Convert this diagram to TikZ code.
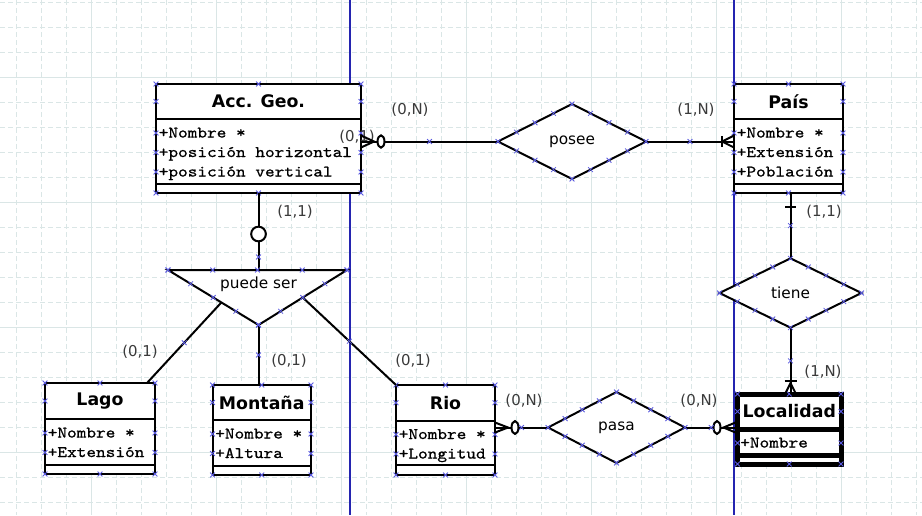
\documentclass[tikz,border=0pt]{standalone}
\usepackage{fontspec}
\setsansfont{DejaVu Sans}
\newfontfamily\attrfont{lmmono10-regular.otf}[FakeStretch=1.15,FakeBold=0.8]
\usetikzlibrary{shapes.geometric,fit,calc}
\definecolor{gridc}{HTML}{DAE6E6}
\definecolor{pagec}{HTML}{2424B0}
\definecolor{markc}{HTML}{5A5AE0}
\definecolor{labelc}{HTML}{3A3A3A}
\tikzset{
  entline/.style={line width=1.5pt},
  hdr/.style={font=\sffamily\bfseries\fontsize{13}{15}\selectfont, inner sep=0pt},
  attr/.style={font=\attrfont\fontsize{12}{14}\selectfont, inner sep=0pt, anchor=base west},
  lbl/.style={font=\sffamily\fontsize{11.2}{13}\selectfont, text=labelc, inner sep=0pt},
  reltxt/.style={font=\sffamily\fontsize{11.5}{13}\selectfont, inner sep=0pt},
  conn/.style={line width=1.5pt, line cap=butt},
  xmark/.style={draw=markc, line width=0.6pt},
  xm/.pic={\draw[xmark] (-2.4,-2.4)--(2.4,2.4) (-2.4,2.4)--(2.4,-2.4);},
  rel/.style={diamond, draw, line width=1.5pt, fill=white, inner sep=0pt, outer sep=0pt},
  gridmin/.style={draw=gridc, line width=0.75pt, dash pattern=on 3.75pt off 2.25pt},
  gridmaj/.style={draw=gridc, line width=0.75pt},
}
% #1 name, #2 x1, #3 y1, #4 x2, #5 y2, #6 header bottom, #7 separator, #8 title, #9 rows
\newcommand\entity[9]{%
  \node[fit={(#2,#3)(#4,#5)}, inner sep=0pt, outer sep=0pt, draw, fill=white, entline] (#1) {};
  \draw[entline] (#2,#6)--(#4,#6) (#2,#7)--(#4,#7);
  \node[hdr] (#1-t) at ({(#2+#4)/2},{(#3+#6)/2}) {#8};
  \foreach \rr [count=\rn] in {#9}{
    \node[attr] (#1-a\rn) at ({#2+2.5},{#6+14+(\rn-1)*19.5+4.5}) {\rr};
    \pic at ({#2},{#6+14+(\rn-1)*19.5}) {xm};
    \pic at ({#4},{#6+14+(\rn-1)*19.5}) {xm};
  }
  \foreach \px in {#2,{(#2+#4)/2},#4}{\pic at ({\px},{#3}) {xm}; \pic at ({\px},{#5}) {xm};}
  \pic at ({#2},{(#3+#6)/2}) {xm};
  \pic at ({#4},{(#3+#6)/2}) {xm};
}
\newcommand\dmarks[1]{%
  \foreach \a/\b in {north/east,east/south,south/west,west/north}{
    \foreach \t in {0,0.25,0.5,0.75}{\pic at ($(#1.\a)!\t!(#1.\b)$) {xm};}
  }
}
\begin{document}
\begin{tikzpicture}[x=0.75pt,y=-0.75pt]
\useasboundingbox (0,0) rectangle (922,515);
\fill[white] (0,0) rectangle (922,515);
% grid
\foreach \i in {0,...,36}{
  \pgfmathtruncatemacro\m{mod(\i,5)}
  \ifnum\m=3 \draw[gridmaj] ({16.7+25*\i},0) -- ({16.7+25*\i},515);
  \else \draw[gridmin] ({16.7+25*\i},0) -- ({16.7+25*\i},515); \fi
}
\foreach \j in {0,...,20}{
  \pgfmathtruncatemacro\m{mod(\j,5)}
  \ifnum\m=3 \draw[gridmaj] (0,{2.3+25*\j}) -- (922,{2.3+25*\j});
  \else \draw[gridmin] (0,{2.3+25*\j}) -- (922,{2.3+25*\j}); \fi
}
% page break lines
\draw[pagec, line width=1.1pt] (350,0) -- (350,515) (734,0) -- (734,515);

% entities
\entity{acc}{156}{84}{361}{193}{119}{184}{Acc. Geo.}{+Nombre *,+posición horizontal,+posición vertical}
\entity{pais}{734}{84}{843}{193}{119}{184}{País}{+Nombre *,+Extensión,+Población}
\entity{lago}{45}{383}{155}{474}{419}{465}{Lago}{+Nombre *,+Extensión}
\entity{mont}{212.5}{385}{311}{475}{420}{466}{Montaña}{+Nombre *,+Altura}
\entity{rio}{396}{385}{495}{475}{420.5}{465}{Rio}{+Nombre *,+Longitud}
\begin{scope}[entline/.style={line width=3.75pt}]
\entity{loc}{737.5}{394}{841}{464}{429}{455}{Localidad}{+Nombre}
\end{scope}

% label partly hidden by the crow's foot
\node[lbl] (lh) at (357,137) {(0,1)};

% relationships
\node[rel, minimum width=111pt, minimum height=56.25pt] (posee) at (572,141.5) {};
\node[reltxt] (posee-t) at (posee) {posee};
\node[rel, minimum width=106.5pt, minimum height=52pt] (tiene) at (790.5,293) {};
\node[reltxt] (tiene-t) at (tiene) {tiene};
\node[rel, minimum width=102.75pt, minimum height=53.25pt] (pasa) at (616.5,427.5) {};
\node[reltxt] (pasa-t) at (pasa) {pasa};

% ISA triangle
\coordinate (isaNW) at (168,270);
\coordinate (isaNE) at (347,270);
\coordinate (isaS) at (258.5,325);
\coordinate (isaN) at (258.5,270);
\draw[conn, fill=white, line join=miter] (isaNW) -- (isaNE) -- (isaS) -- cycle;
\node[reltxt] (isa) at (258.5,284.5) {puede ser};
\coordinate (isaL) at ($(isaNW)!0.59!(isaS)$);
\coordinate (isaR) at ($(isaNE)!0.5!(isaS)$);
\coordinate (lagoT) at ($(lago.north east)+(-8,0)$);

% connectors
\coordinate (c1) at (acc.east |- posee.west);
\coordinate (c2) at (pais.west |- posee.east);
\coordinate (c3) at (tiene.north |- pais.south);
\coordinate (c4) at (tiene.south |- loc.north);
\coordinate (c5) at (rio.east |- pasa.west);
\coordinate (c6) at (loc.west |- pasa.east);
\draw[conn] (c1) -- (posee.west);
\draw[conn] (posee.east) -- (c2);
\draw[conn] (c3) -- (tiene.north);
\draw[conn] (tiene.south) -- (c4);
\draw[conn] (c5) -- (pasa.west);
\draw[conn] (pasa.east) -- (c6);
\draw[conn] (acc.south) -- (isaN);
\draw[conn] (isaL) -- (lagoT);
\draw[conn] (isaS) -- (isaS |- mont.north);
\draw[conn] (isaR) -- (rio.north west);

% cardinality marks
\draw[conn] ($(c1)+(0,-6)$) -- ($(c1)+(13,0)$) -- ($(c1)+(0,6)$);
\draw[conn, fill=white] ($(c1)+(20,0)$) ellipse [x radius=2.6pt, y radius=4.6pt];
\draw[conn] ($(c2)+(0,-6)$) -- ($(c2)+(-12,0)$) -- ($(c2)+(0,6)$);
\draw[conn] ($(c2)+(-12,-5.5)$) -- ($(c2)+(-12,5.5)$);
\draw[conn] ($(c3)+(-5.5,14)$) -- ($(c3)+(5.5,14)$);
\draw[conn] ($(c4)+(-5,-1)$) -- ($(c4)+(0,-11)$) -- ($(c4)+(5,-1)$);
\draw[conn] ($(c4)+(-6,-13)$) -- ($(c4)+(6,-13)$);
\draw[conn] ($(c5)+(0,-5)$) -- ($(c5)+(13,0)$) -- ($(c5)+(0,5)$);
\draw[conn, fill=white] ($(c5)+(20,0)$) ellipse [x radius=2.6pt, y radius=4.8pt];
\draw[conn] ($(c6)+(-2,-5)$) -- ($(c6)+(-14,0)$) -- ($(c6)+(-2,5)$);
\draw[conn, fill=white] ($(c6)+(-20.5,0)$) ellipse [x radius=2.6pt, y radius=4.8pt];
\node[circle, draw, fill=white, line width=1.5pt, minimum size=11pt, inner sep=0pt] (opt) at (258.5,234) {};

% labels
\node[lbl] (l1) at (410,110) {(0,N)};
\node[lbl] (l2) at (696,110) {(1,N)};
\node[lbl] (l3) at (295,212) {(1,1)};
\node[lbl] (l4) at (824,212) {(1,1)};
\node[lbl] (l5) at (823,372) {(1,N)};
\node[lbl] (l6) at (140,352) {(0,1)};
\node[lbl] (l7) at (289,361) {(0,1)};
\node[lbl] (l8) at (413,361) {(0,1)};
\node[lbl] (l9) at (524,401) {(0,N)};
\node[lbl] (l10) at (699,401) {(0,N)};

% connection point marks
\dmarks{posee}
\dmarks{tiene}
\dmarks{pasa}
\foreach \t in {0,0.25,0.5,0.75,1}{
  \pic at ($(isaNW)!\t!(isaNE)$) {xm};
  \pic at ($(isaNW)!\t!(isaS)$) {xm};
  \pic at ($(isaNE)!\t!(isaS)$) {xm};
}
\pic at ($(c1)!0.5!(posee.west)$) {xm};
\pic at ($(posee.east)!0.5!(c2)$) {xm};
\pic at ($(c3)!0.5!(tiene.north)$) {xm};
\pic at ($(tiene.south)!0.5!(c4)$) {xm};
\pic at ($(c5)!0.5!(pasa.west)$) {xm};
\pic at ($(pasa.east)!0.5!(c6)$) {xm};
\pic at (258.5,257) {xm};
\pic at ($(isaL)!0.5!(lagoT)$) {xm};
\pic at ($(isaS)!0.5!(isaS |- mont.north)$) {xm};
\pic at ($(isaR)!0.5!(rio.north west)$) {xm};
\end{tikzpicture}
\end{document}
